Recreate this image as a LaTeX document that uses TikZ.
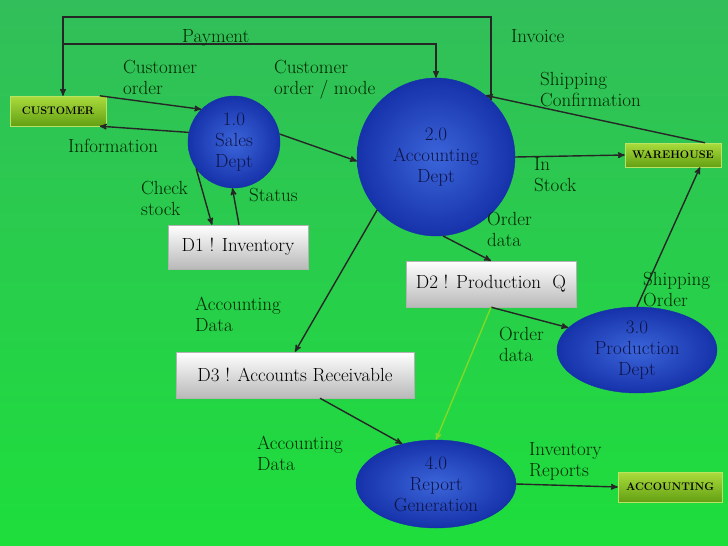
\documentclass[tikz,border=0pt]{standalone}
\usetikzlibrary{arrows,shapes.geometric,positioning}

\definecolor{procblue}{RGB}{38,84,214}
\definecolor{procdark}{RGB}{22,50,170}
\definecolor{proctext}{RGB}{14,20,70}
\definecolor{bgtop}{RGB}{50,190,90}
\definecolor{bgbot}{RGB}{30,222,60}
\definecolor{extlight}{RGB}{170,220,60}
\definecolor{extdark}{RGB}{100,160,20}

\tikzset{
  process/.style={draw=procdark,inner color=procblue!90!white,outer color=procdark,inner sep=0pt,
                  align=center,text=proctext,font=\fontsize{19}{21}\selectfont},
  store/.style={draw=gray!60,top color=white,bottom color=gray!55,minimum height=44pt,
                font=\fontsize{19}{20}\selectfont},
  extent/.style={draw=extlight!80!white,top color=extlight,bottom color=extdark,
                 minimum height=30pt,font=\bfseries\fontsize{11}{12}\selectfont},
  flow/.style={->,>=stealth',line width=1.4pt,black!85},
  lbl/.style={anchor=north west,inner sep=0pt,align=left,text=black!85!green,
              font=\fontsize{19}{21}\selectfont}
}

\begin{document}
\begin{tikzpicture}[x=1pt,y=-1pt]

% background
\shade[top color=bgtop,bottom color=bgbot] (0,0) rectangle (728,546);
\useasboundingbox (0,0) rectangle (728,546);

% Entities
\node[extent,minimum width=96pt] (customer) at (58,111) {CUSTOMER};
\node[extent,minimum width=96pt,minimum height=24pt] (warehouse) at (673,155) {WAREHOUSE};
\node[extent,minimum width=104pt] (accounting) at (670,487) {ACCOUNTING};

% Processes
\node[process,circle,minimum size=92pt] (sales) at (234,142) {1.0\\Sales\\Dept};
\node[process,circle,minimum size=158pt] (acct) at (436,157) {2.0\\Accounting\\Dept};
\node[process,ellipse,minimum width=160pt,minimum height=86pt] (prod) at (637,350) {3.0\\Production\\Dept};
\node[process,ellipse,minimum width=160pt,minimum height=88pt] (report) at (436,484) {4.0\\Report\\Generation};

% Data stores
\node[store,minimum width=140pt] (inventory) at (238,247) {D1 ! Inventory};
\node[store,minimum width=170pt,minimum height=46pt] (prodq) at (491,284) {D2 ! Production\ \ Q};
\node[store,minimum width=238pt,minimum height=46pt] (receivable) at (295,375) {D3 ! Accounts Receivable};

% Flows
\coordinate (top) at (63,17);
\draw[flow] (acct.46) -- (acct.46 |- top) -- (top) -- (customer.north -| top);
\draw[flow] (63,44) -- (acct.north |- 0,44) -- (acct.north);
\draw[flow] (customer.20) -- (sales.135);
\draw[flow] (sales.168) -- (customer.340);
\draw[flow] (sales.10) -- (acct.183);
\draw[flow] (sales.215) -- (inventory.north -| 212,0);
\draw[flow] (inventory.north -| 239,0) -- (sales.268);
\draw[flow] (warehouse.north -| 705,0) -- (acct.51);
\draw[flow] (acct.0) -- (warehouse.west);
\draw[flow] (acct.275) -- (prodq.north);
\draw[flow] (acct.222) -- (receivable.north);
\draw[flow] (prodq.south) -- (prod.162);
\draw[flow,green!50!yellow!70!gray] (prodq.south) -- (report.north);
\draw[flow] (prod.north) -- (warehouse.south -| 700,0);
\draw[flow] (receivable.south -| 320,0) -- (report.130);
\draw[flow] (report.east) -- (accounting.west);

% Labels
\node[lbl] (lpay) at (182,29) {Payment};
\node[lbl] (linv) at (511,29) {Invoice};
\node[lbl] (lcord) at (123,60) {Customer\\order};
\node[lbl] (lmode) at (274,60) {Customer\\order / mode};
\node[lbl] (lship) at (540,72) {Shipping\\Confirmation};
\node[lbl] (linfo) at (68,139) {Information};
\node[lbl] (lstock) at (534,157) {In\\Stock};
\node[lbl] (lcheck) at (141,181) {Check\\stock};
\node[lbl] (lstatus) at (249,188) {Status};
\node[lbl] (lodata) at (487,212) {Order\\data};
\node[lbl] (lsorder) at (643,272) {Shipping\\Order};
\node[lbl] (ladata) at (195,297) {Accounting\\Data};
\node[lbl] (lodata2) at (499,327) {Order\\data};
\node[lbl] (ladata2) at (257,436) {Accounting\\Data};
\node[lbl] (lrep) at (529,442) {Inventory\\Reports};

\end{tikzpicture}
\end{document}
